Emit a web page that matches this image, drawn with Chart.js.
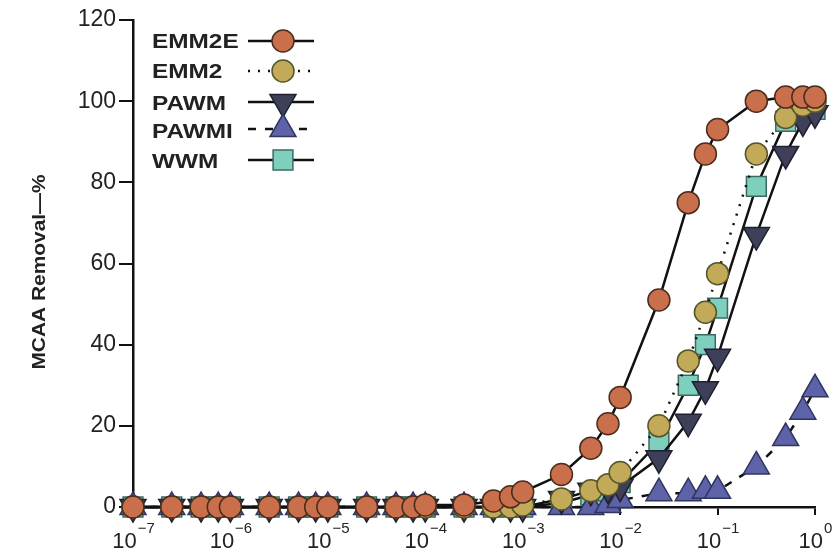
<!DOCTYPE html>
<html>
<head>
<meta charset="utf-8">
<script src="https://cdn.jsdelivr.net/npm/chart.js@4.4.1/dist/chart.umd.min.js"></script>
<style>
  html, body { margin: 0; padding: 0; background: #fff; }
  #wrap { width: 833px; height: 552px; }
</style>
</head>
<body>
<div id="wrap"><canvas id="mcaaChart" width="833" height="552"></canvas></div>
<script>
// dose values (x) shared by every series
const xValues = [1e-7, 2.5e-7, 5e-7, 7.5e-7, 1e-6, 2.5e-6, 5e-6, 7.5e-6, 1e-5, 2.5e-5, 5e-5, 7.5e-5,
                 1e-4, 2.5e-4, 5e-4, 7.5e-4, 1e-3, 2.5e-3, 5e-3, 7.5e-3, 1e-2, 2.5e-2, 5e-2, 7.5e-2,
                 0.1, 0.25, 0.5, 0.75, 1];

const emm2e = [0, 0, 0, 0, 0, 0, 0, 0, 0, 0, 0, 0,
               0.5, 0.5, 1.5, 2.5, 3.7, 8, 14.5, 20.5, 27, 51, 75, 87, 93, 100, 101, 101, 101];
const emm2  = [0, 0, 0, 0, 0, 0, 0, 0, 0, 0, 0, 0,
               0, 0, 0, 0, 0.5, 2, 4, 5.5, 8.5, 20, 36, 48, 57.5, 87, 96, 99, 100];
const pawm  = [0, 0, 0, 0, 0, 0, 0, 0, 0, 0, 0, 0,
               0, 0, 0, 0, 0, 2, 4, 4.5, 5, 12, 21, 29, 37, 67, 87, 95, 97];
const pawmi = [0, 0, 0, 0, 0, 0, 0, 0, 0, 0, 0, 0,
               0, 0, 0, 0, 0, 0, 0, 0.5, 1.7, 3.4, 3.4, 4, 4, 10, 17, 23.5, 29];
const wwm   = [0, 0, 0, 0, 0, 0, 0, 0, 0, 0, 0, 0,
               0, 0, 0, 0, 0, 1, 3, 4, 6, 16, 30, 40, 49, 79, 95, 97, 98];

const seriesNames = ['EMM2E', 'EMM2', 'PAWM', 'PAWMI', 'WWM'];
const xTickExponents = [-7, -6, -5, -4, -3, -2, -1, 0];
const yTicks = [0, 20, 40, 60, 80, 100, 120];
const yTitle = 'MCAA Removal\u2014%';

const FONT = "'Liberation Sans', Arial, sans-serif";

function pts(vals) {
    return xValues.map((x, i) => ({ x: x, y: vals[i] }));
}

// marker styles, first one is drawn on top
const styles = [
    { data: emm2e, style: 'circle',   radius: 11, rot: 0,   fill: '#c96f4c', edge: '#4b2c1e', dash: [] },
    { data: emm2,  style: 'circle',   radius: 11, rot: 0,   fill: '#c2aa58', edge: '#55552c', dash: [2, 8] },
    { data: pawm,  style: 'triangle', radius: 15, rot: 180, fill: '#3d4058', edge: '#1e2030', dash: [] },
    { data: pawmi, style: 'triangle', radius: 15, rot: 0,   fill: '#5d62a9', edge: '#30355e', dash: [8, 9] },
    { data: wwm,   style: 'rect',     radius: 14, rot: 0,   fill: '#7ecfbd', edge: '#3b6b60', dash: [] }
];

const datasets = styles.map((s, i) => ({
    label: seriesNames[i],
    data: pts(s.data),
    borderColor: '#111',
    borderWidth: 2.5,
    borderDash: s.dash,
    pointStyle: s.style,
    pointRotation: s.rot,
    pointRadius: s.radius,
    pointHoverRadius: s.radius,
    pointBackgroundColor: s.fill,
    pointBorderColor: s.edge,
    pointBorderWidth: 1.5,
    tension: 0,
    fill: false,
    clip: false
}));

function drawMarker(ctx, s, x, y) {
    ctx.save();
    ctx.fillStyle = s.fill;
    ctx.strokeStyle = s.edge;
    ctx.lineWidth = 1.5;
    ctx.setLineDash([]);
    ctx.beginPath();
    if (s.style === 'circle') {
        ctx.arc(x, y, s.radius, 0, Math.PI * 2);
    } else if (s.style === 'rect') {
        const h = Math.SQRT1_2 * s.radius;
        ctx.rect(x - h, y - h, 2 * h, 2 * h);
    } else {
        let rad = s.rot * Math.PI / 180;
        ctx.moveTo(x + Math.sin(rad) * s.radius, y - Math.cos(rad) * s.radius);
        rad += 2 * Math.PI / 3;
        ctx.lineTo(x + Math.sin(rad) * s.radius, y - Math.cos(rad) * s.radius);
        rad += 2 * Math.PI / 3;
        ctx.lineTo(x + Math.sin(rad) * s.radius, y - Math.cos(rad) * s.radius);
        ctx.closePath();
    }
    ctx.fill();
    ctx.stroke();
    ctx.restore();
}

const extras = {
    id: 'extras',
    afterDraw(chart) {
        const ctx = chart.ctx;
        const xs = chart.scales.x;
        const ys = chart.scales.y;

        // x tick labels as 10 with superscript exponent
        ctx.save();
        ctx.fillStyle = '#222';
        ctx.textBaseline = 'alphabetic';
        xTickExponents.forEach(e => {
            const px = xs.getPixelForValue(Math.pow(10, e));
            const base = '10';
            const sup = e === 0 ? '0' : '\u2212' + Math.abs(e);
            ctx.font = '22px ' + FONT;
            const w1 = ctx.measureText(base).width;
            ctx.font = '15px ' + FONT;
            const w2 = ctx.measureText(sup).width;
            const start = px - (w1 + w2) / 2;
            ctx.font = '22px ' + FONT;
            ctx.fillText(base, start, 548);
            ctx.font = '15px ' + FONT;
            ctx.fillText(sup, start + w1 + 1, 533);
        });
        ctx.restore();

        // y axis title
        ctx.save();
        ctx.translate(40, 272);
        ctx.rotate(-Math.PI / 2);
        ctx.font = 'bold 19px ' + FONT;
        ctx.fillStyle = '#222';
        ctx.textAlign = 'center';
        ctx.textBaseline = 'middle';
        ctx.scale(1.1, 1);
        ctx.fillText(yTitle, 0, 0);
        ctx.restore();

        // legend
        const textX = 152;
        const baselines = [48, 78, 110, 138, 168];
        const markerYs = [41, 71, 102, 129, 160];
        styles.forEach((s, i) => {
            ctx.save();
            ctx.font = 'bold 21px ' + FONT;
            ctx.fillStyle = '#222';
            ctx.translate(textX, baselines[i]);
            ctx.scale(1.16, 1);
            ctx.fillText(seriesNames[i], 0, 0);
            ctx.restore();

            ctx.save();
            ctx.strokeStyle = '#111';
            ctx.lineWidth = 2.5;
            ctx.setLineDash(s.dash);
            ctx.beginPath();
            ctx.moveTo(248, markerYs[i]);
            ctx.lineTo(314, markerYs[i]);
            ctx.stroke();
            ctx.restore();
            drawMarker(ctx, s, 283, markerYs[i]);
        });
    }
};

new Chart(document.getElementById('mcaaChart'), {
    type: 'line',
    data: { datasets: datasets },
    options: {
        responsive: false,
        animation: false,
        layout: { padding: { top: 20, right: 18, left: 0, bottom: 0 } },
        plugins: {
            legend: { display: false },
            tooltip: { enabled: false }
        },
        scales: {
            x: {
                type: 'logarithmic',
                min: 1e-7,
                max: 1,
                afterBuildTicks: scale => {
                    scale.ticks = xTickExponents.map(e => ({ value: Math.pow(10, e) }));
                },
                afterFit: scale => { scale.height = 45; },
                ticks: { display: false },
                grid: {
                    display: true,
                    drawOnChartArea: false,
                    drawTicks: true,
                    tickLength: 8,
                    color: '#111',
                    lineWidth: 2
                },
                border: { display: true, color: '#111', width: 2.5 }
            },
            y: {
                min: 0,
                max: 120,
                afterBuildTicks: scale => {
                    scale.ticks = yTicks.map(v => ({ value: v }));
                },
                afterFit: scale => { scale.width = 133; },
                ticks: {
                    color: '#222',
                    padding: 3,
                    font: { family: FONT, size: 23 }
                },
                grid: {
                    display: true,
                    drawOnChartArea: false,
                    drawTicks: true,
                    tickLength: 14,
                    color: '#111',
                    lineWidth: 2
                },
                border: { display: true, color: '#111', width: 2.5 }
            }
        }
    },
    plugins: [extras]
});
</script>
</body>
</html>
